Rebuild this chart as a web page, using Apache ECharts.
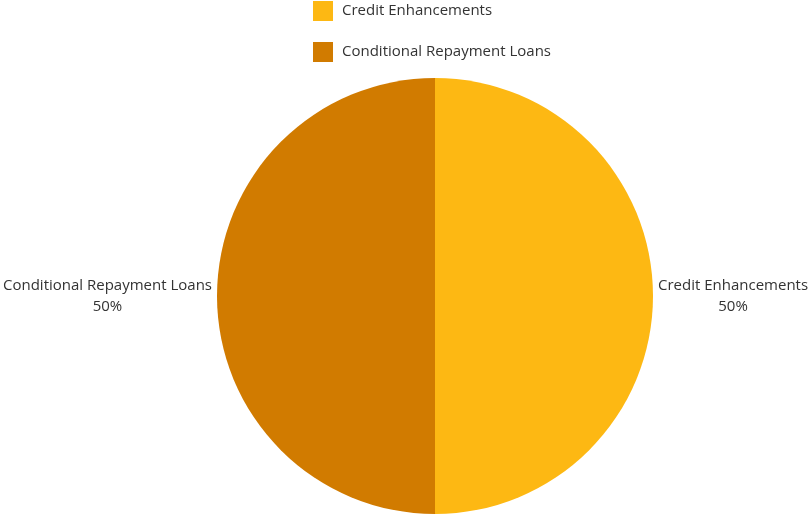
<!DOCTYPE html>
<html><head><meta charset="utf-8">
<script src="https://cdn.jsdelivr.net/npm/echarts@6/dist/echarts.min.js"></script>
<style>html,body{margin:0;padding:0;background:#fff}#c{width:809px;height:514px}</style>
</head><body><div id="c"></div>
<script>
const categories = ['Credit Enhancements', 'Conditional Repayment Loans'];
const values = [50, 50];
const colors = ['#FDB813', '#D17B00'];

const chart = echarts.init(document.getElementById('c'));
chart.setOption({
  animation: false,
  color: colors,
  textStyle: { fontFamily: 'Open Sans' },
  legend: {
    orient: 'vertical', left: 313, top: 1, padding: 0,
    itemWidth: 20, itemHeight: 20, itemGap: 21,
    icon: 'rect',
    textStyle: { fontSize: 15, color: '#333333', fontFamily: 'Open Sans', padding: [0, 0, 0, 4] },
    data: categories
  },
  series: [{
    type: 'pie',
    center: [435, 296],
    radius: 218,
    startAngle: 90,
    data: categories.map((n, i) => ({ name: n, value: values[i] })),
    label: {
      show: true, position: 'outside',
      formatter: '{b}\n{d}%', overflow: 'none',
      fontSize: 15, lineHeight: 21, color: '#333333', fontFamily: 'Open Sans'
    },
    labelLine: { show: false, length: 0, length2: 0 },
    labelLayout: function (p) {
      const r = p.labelRect;
      return { x: r.x + r.width / 2, y: r.y + r.height / 2, align: 'center', verticalAlign: 'middle' };
    },
    emphasis: { disabled: true }
  }]
});
</script></body></html>
